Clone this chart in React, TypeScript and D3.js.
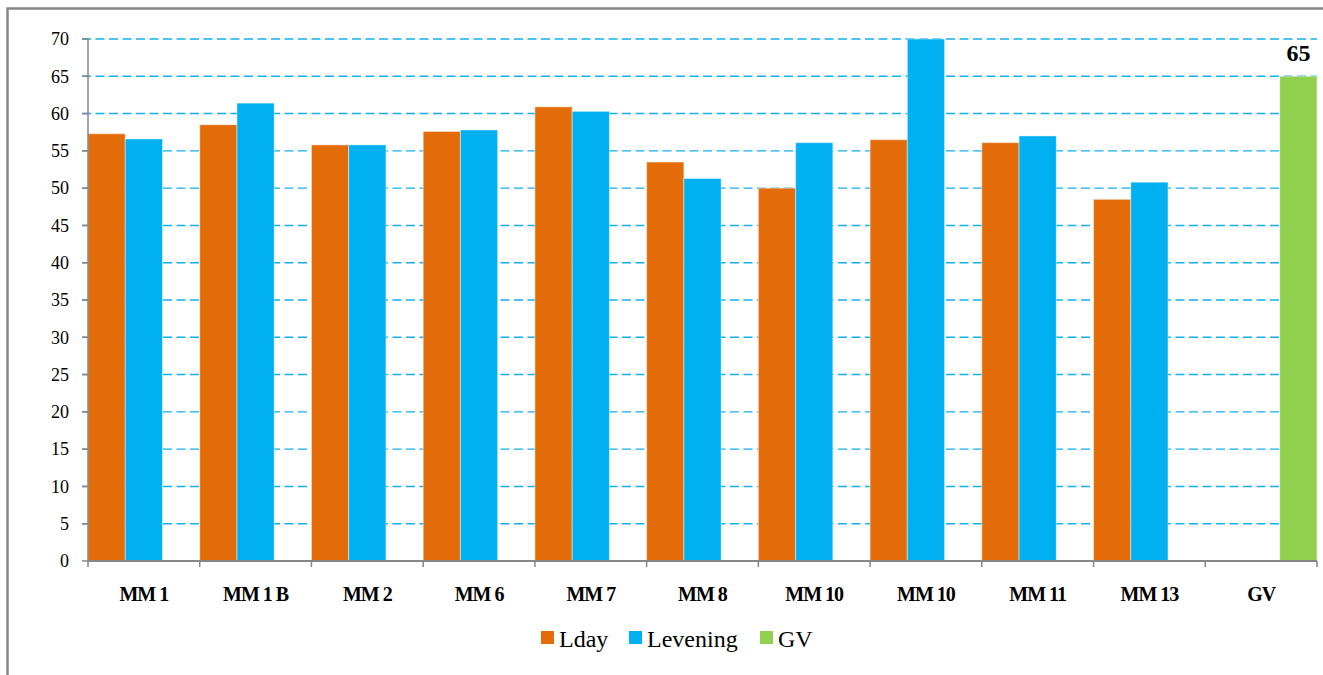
import React from "react";
import * as d3 from "d3";

const categories = ["MM 1", "MM 1 B", "MM 2", "MM 6", "MM 7", "MM 8", "MM 10", "MM 10", "MM 11", "MM 13", "GV"];
const lday = [57.3, 58.5, 55.8, 57.6, 60.9, 53.5, 50.0, 56.5, 56.1, 48.5, null];
const levening = [56.6, 61.4, 55.8, 57.8, 60.3, 51.3, 56.1, 70.0, 57.0, 50.8, null];
const gv = [null, null, null, null, null, null, null, null, null, null, 65];
const yTicks = [0, 5, 10, 15, 20, 25, 30, 35, 40, 45, 50, 55, 60, 65, 70];
const seriesNames = ["Lday", "Levening", "GV"];
const seriesColors = ["#E36C09", "#00B0F0", "#92D050"];

const W = 1323;
const H = 675;
const left = 88;
const right = 1317;
const top = 39;
const bottom = 561;

export default function App() {
  const x = d3.scaleBand<number>().domain(categories.map((_, i) => i)).range([left, right]).paddingInner(0).paddingOuter(0);
  const inner = d3.scaleBand<number>().domain([0, 1, 2]).range([0, x.bandwidth()]).padding(0);
  const y = d3.scaleLinear().domain([0, 70]).range([bottom, top]);
  const series = [lday, levening, gv];
  const serif = "Liberation Serif";

  return (
    <div style={{ position: "fixed", left: 0, top: 0 }}>
      <svg width={W} height={H} style={{ display: "block", background: "#fff" }}>
        <rect x={7.5} y={8.5} width={1400} height={800} fill="none" stroke="#868686" strokeWidth={2.5} />
        {yTicks.filter((t) => t > 0).map((t) => (
          <line key={"g" + t} x1={82} x2={right} y1={y(t)} y2={y(t)} stroke="#14B0EE" strokeWidth={1.4} strokeDasharray="9,4.5" />
        ))}
        {series.map((vals, si) =>
          vals.map((v, ci) =>
            v == null ? null : (
              <rect
                key={"b" + si + "-" + ci}
                x={(x(ci) as number) + (inner(si) as number)}
                y={y(v)}
                width={inner.bandwidth()}
                height={y(0) - y(v)}
                fill={seriesColors[si]}
                stroke="rgba(255,255,255,0.45)"
                strokeWidth={1}
              />
            )
          )
        )}
        <line x1={left} x2={left} y1={top} y2={bottom} stroke="#868686" strokeWidth={1.5} />
        {yTicks.map((t) => (
          <g key={"yt" + t}>
            <line x1={82} x2={left} y1={y(t)} y2={y(t)} stroke="#868686" strokeWidth={1.5} />
            <text x={69} y={y(t)} dy="0.35em" textAnchor="end" fontFamily={serif} fontSize={18} fill="#000">
              {t}
            </text>
          </g>
        ))}
        <line x1={left} x2={right} y1={bottom} y2={bottom} stroke="#868686" strokeWidth={2} />
        {categories.map((_, i) => (
          <line key={"xt" + i} x1={x(i) as number} x2={x(i) as number} y1={bottom} y2={bottom + 6} stroke="#868686" strokeWidth={1.5} />
        ))}
        <line x1={right} x2={right} y1={bottom} y2={bottom + 6} stroke="#868686" strokeWidth={1.5} />
        {categories.map((c, i) => (
          <text
            key={"xl" + i}
            x={(x(i) as number) + x.bandwidth() / 2}
            y={601}
            textAnchor="middle"
            fontFamily={serif}
            fontWeight="bold"
            fontSize={20}
            letterSpacing={-1}
            fill="#000"
          >
            {c}
          </text>
        ))}
        {gv.map((v, ci) =>
          v == null ? null : (
            <text
              key={"lbl" + ci}
              x={(x(ci) as number) + (inner(2) as number) + inner.bandwidth() / 2}
              y={61}
              textAnchor="middle"
              fontFamily={serif}
              fontWeight="bold"
              fontSize={24}
              fill="#000"
            >
              {v}
            </text>
          )
        )}
        {(() => {
          const items = [
            { sx: 541, tx: 559 },
            { sx: 629, tx: 647 },
            { sx: 760, tx: 778 },
          ];
          return seriesNames.map((n, i) => (
            <g key={"lg" + i}>
              <rect x={items[i].sx} y={631} width={13} height={13} fill={seriesColors[i]} />
              <text x={items[i].tx} y={647} fontFamily={serif} fontSize={24} fill="#000">
                {n}
              </text>
            </g>
          ));
        })()}
      </svg>
    </div>
  );
}
